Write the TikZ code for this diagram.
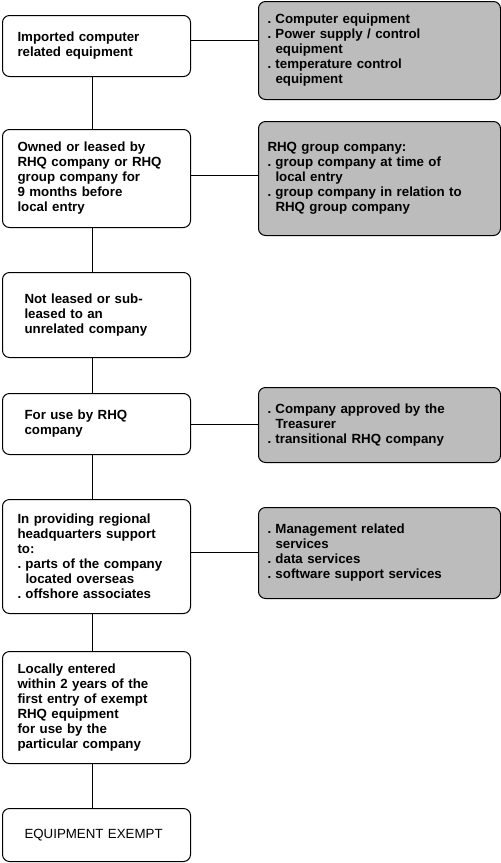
\documentclass[tikz,border=0pt]{standalone}
\usepackage{fontspec}
\setmainfont{Liberation Sans}
\definecolor{shade}{RGB}{188,188,188}
\newcommand\hind{\hspace*{8pt}}
\newcommand\bul{\makebox[8pt][l]{.}}
\begin{document}
\begin{tikzpicture}[x=1pt,y=-1pt,
  box/.style={draw=black, line width=1pt, rounded corners=7pt, anchor=north west, align=left, inner ysep=2pt, font=\bfseries\fontsize{13.3}{15}\selectfont},
  lbox/.style={box, fill=white, inner xsep=15pt, text width=158pt, minimum width=188pt},
  ibox/.style={box, fill=white, inner xsep=22pt, text width=144pt, minimum width=188pt},
  rbox/.style={box, fill=shade, inner xsep=9pt, text width=224pt, minimum width=242pt},
  link/.style={draw=black, line width=1pt}]
\useasboundingbox (0,0) rectangle (501,863);
\node[lbox, minimum height=61pt] (L1) at (2,15) {Imported computer\\related equipment};
\node[lbox, minimum height=98pt] (L2) at (2,129) {Owned or leased by\\RHQ company or RHQ\\group company for\\9 months before\\local entry};
\node[ibox, minimum height=85pt] (L3) at (2,272) {Not leased or sub-\\leased to an\\unrelated company};
\node[ibox, minimum height=61pt] (L4) at (2,393) {For use by RHQ\\company};
\node[lbox, minimum height=114pt] (L5) at (2,499) {In providing regional\\headquarters support\\to:\\\bul parts of the company\\\hind located overseas\\\bul offshore associates};
\node[lbox, minimum height=112pt] (L6) at (2,651) {Locally entered\\within 2 years of the\\first entry of exempt\\RHQ equipment\\for use by the\\particular company};
\node[ibox, minimum height=53pt, font=\mdseries\fontsize{13.3}{15}\selectfont] (L7) at (2,808) {EQUIPMENT EXEMPT};
\node[rbox, minimum height=98pt] (R1) at (258,1) {\bul Computer equipment\\\bul Power supply / control\\\hind equipment\\\bul temperature control\\\hind equipment};
\node[rbox, minimum height=114pt] (R2) at (258,121) {RHQ group company:\\\bul group company at time of\\\hind local entry\\\bul group company in relation to\\\hind RHQ group company};
\node[rbox, minimum height=75pt] (R3) at (258,387) {\bul Company approved by the\\\hind Treasurer\\\bul transitional RHQ company};
\node[rbox, minimum height=91pt] (R4) at (258,507) {\bul Management related\\\hind services\\\bul data services\\\bul software support services};
\coordinate (vx) at (92.5,0);
\draw[link] (L1.south -| vx) -- (L2.north -| vx);
\draw[link] (L2.south -| vx) -- (L3.north -| vx);
\draw[link] (L3.south -| vx) -- (L4.north -| vx);
\draw[link] (L4.south -| vx) -- (L5.north -| vx);
\draw[link] (L5.south -| vx) -- (L6.north -| vx);
\draw[link] (L6.south -| vx) -- (L7.north -| vx);
\coordinate (h1) at (0,40);
\coordinate (h2) at (0,175);
\coordinate (h3) at (0,424);
\coordinate (h4) at (0,552);
\draw[link] (L1.east |- h1) -- (R1.west |- h1);
\draw[link] (L2.east |- h2) -- (R2.west |- h2);
\draw[link] (L4.east |- h3) -- (R3.west |- h3);
\draw[link] (L5.east |- h4) -- (R4.west |- h4);
\end{tikzpicture}
\end{document}
